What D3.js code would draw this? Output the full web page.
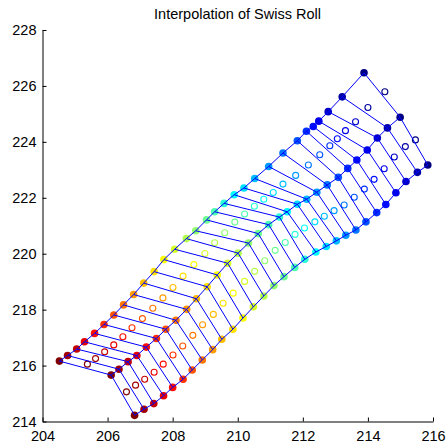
<!DOCTYPE html>
<html>
<head>
<meta charset="utf-8">
<script src="https://cdn.jsdelivr.net/npm/d3@7"></script>
<style>
  body { margin: 0; background: #fff; }
  text { font-family: "Liberation Sans", Arial, sans-serif; }
</style>
</head>
<body>
<div id="chart"></div>
<script>
// boundary (filled dots) and interpolated (open circles) points, bottom row first
const leftEdge = [
  [204.52, 216.16], [204.77, 216.36], [205.05, 216.59], [205.29, 216.85], [205.60, 217.15],
  [205.89, 217.47], [206.19, 217.81], [206.49, 218.17], [206.80, 218.54], [207.11, 218.95],
  [207.43, 219.36], [207.73, 219.79], [208.06, 220.16], [208.42, 220.54], [208.71, 220.82],
  [209.04, 221.21], [209.29, 221.50], [209.58, 221.80], [209.89, 222.11], [210.19, 222.35],
  [210.52, 222.69], [210.95, 223.12], [211.39, 223.60], [211.83, 224.04], [212.11, 224.38],
  [212.32, 224.55], [212.49, 224.74], [212.78, 225.08], [213.21, 225.61], [213.88, 226.47]
];
const midEdge = [
  [206.11, 215.66], [206.35, 215.87], [206.63, 216.14], [206.90, 216.36], [207.19, 216.66],
  [207.50, 216.97], [207.79, 217.30], [208.10, 217.62], [208.43, 218.01], [208.73, 218.39],
  [209.06, 218.82], [209.37, 219.24], [209.69, 219.66], [210.01, 220.02], [210.33, 220.38],
  [210.63, 220.72], [210.95, 221.04], [211.28, 221.31], [211.52, 221.50], [211.83, 221.77],
  [212.12, 221.95], [212.43, 222.20], [212.75, 222.46], [213.09, 222.73], [213.38, 223.05],
  [213.66, 223.35], [213.98, 223.71], [214.29, 224.14], [214.60, 224.50], [214.99, 224.88]
];
const rightEdge = [
  [206.83, 214.22], [207.12, 214.44], [207.42, 214.64], [207.72, 214.92], [208.00, 215.22],
  [208.32, 215.51], [208.60, 215.84], [208.91, 216.20], [209.23, 216.57], [209.51, 216.94],
  [209.85, 217.30], [210.16, 217.70], [210.48, 218.10], [210.80, 218.49], [211.11, 218.86],
  [211.42, 219.18], [211.75, 219.51], [212.06, 219.80], [212.40, 220.06], [212.72, 220.26],
  [213.03, 220.46], [213.32, 220.66], [213.63, 220.85], [213.94, 221.14], [214.27, 221.47],
  [214.55, 221.76], [214.86, 222.18], [215.17, 222.58], [215.52, 222.91], [215.84, 223.17]
];
const interpLeft = [
  [205.38, 216.05], [205.63, 216.25], [205.91, 216.49], [206.19, 216.74], [206.47, 217.03],
  [206.75, 217.35], [207.07, 217.68], [207.39, 218.05], [207.70, 218.42], [208.01, 218.79],
  [208.32, 219.20], [208.65, 219.61], [208.99, 220.01], [209.29, 220.39], [209.60, 220.75],
  [209.91, 221.13], [210.21, 221.42], [210.51, 221.70], [210.80, 221.95], [211.09, 222.19],
  [211.39, 222.49], [211.78, 222.80], [212.17, 223.17], [212.52, 223.54], [212.83, 223.86],
  [213.06, 224.11], [213.31, 224.40], [213.62, 224.72], [214.00, 225.23], [214.52, 225.79]
];
const interpRight = [
  [206.58, 215.06], [206.86, 215.30], [207.14, 215.51], [207.43, 215.76], [207.71, 216.05],
  [208.01, 216.38], [208.31, 216.70], [208.62, 217.08], [208.92, 217.46], [209.25, 217.83],
  [209.55, 218.23], [209.86, 218.59], [210.21, 219.01], [210.52, 219.37], [210.83, 219.75],
  [211.15, 220.12], [211.46, 220.40], [211.76, 220.69], [212.05, 220.92], [212.37, 221.14],
  [212.66, 221.34], [212.96, 221.54], [213.27, 221.74], [213.58, 222.02], [213.89, 222.31],
  [214.19, 222.66], [214.50, 223.04], [214.81, 223.46], [215.15, 223.83], [215.46, 224.07]
];
const xTicks = [204, 206, 208, 210, 212, 214, 216];
const yTicks = [214, 216, 218, 220, 222, 224, 226, 228];
const title = "Interpolation of Swiss Roll";

const W = 446, H = 444;
const margin = { top: 30, right: 13, bottom: 22.5, left: 42.5 };

const svg = d3.select("#chart").append("svg")
  .attr("width", W)
  .attr("height", H);

const x = d3.scaleLinear().domain([204, 216]).range([margin.left, W - margin.right]);
const y = d3.scaleLinear().domain([214, 228]).range([H - margin.bottom, margin.top]);

// jet colormap, reversed so the first row is dark red
const jet = d3.scaleLinear()
  .domain([0, 0.125, 0.375, 0.625, 0.875, 1])
  .range(["#000080", "#0000ff", "#00ffff", "#ffff00", "#ff0000", "#800000"]);
const n = leftEdge.length;
const color = i => jet(1 - i / (n - 1));

// filled boundary dots
[leftEdge, midEdge, rightEdge].forEach(pts => {
  svg.append("g").selectAll("circle")
    .data(pts)
    .join("circle")
    .attr("cx", d => x(d[0]))
    .attr("cy", d => y(d[1]))
    .attr("r", 3.8)
    .attr("fill", (d, i) => color(i));
});

// open interpolated circles
[interpLeft, interpRight].forEach(pts => {
  svg.append("g").selectAll("circle")
    .data(pts)
    .join("circle")
    .attr("cx", d => x(d[0]))
    .attr("cy", d => y(d[1]))
    .attr("r", 3.0)
    .attr("fill", "none")
    .attr("stroke-width", 1.1)
    .attr("stroke", (d, i) => color(i));
});

// grid lines
const line = d3.line().x(d => x(d[0])).y(d => y(d[1]));
const grid = svg.append("g")
  .attr("fill", "none")
  .attr("stroke", "#0000ff")
  .attr("stroke-width", 1);

[leftEdge, midEdge, rightEdge].forEach(pts => {
  grid.append("path").attr("d", line(pts));
});
leftEdge.forEach((p, i) => {
  grid.append("path").attr("d", line([p, midEdge[i], rightEdge[i]]));
});

// axes
const xAxis = svg.append("g")
  .attr("transform", `translate(0,${H - margin.bottom})`)
  .call(d3.axisBottom(x).tickValues(xTicks).tickSize(-4).tickSizeOuter(0).tickPadding(9));
const yAxis = svg.append("g")
  .attr("transform", `translate(${margin.left},0)`)
  .call(d3.axisLeft(y).tickValues(yTicks).tickSize(-4).tickSizeOuter(0).tickPadding(6));

[xAxis, yAxis].forEach(a => {
  a.selectAll("text")
    .style("font-size", "14.5px")
    .attr("fill", "#000");
  a.selectAll("line, path").attr("stroke", "#000");
});

svg.append("text")
  .attr("x", 237.5)
  .attr("y", 19)
  .attr("text-anchor", "middle")
  .style("font-size", "14.5px")
  .text(title);
</script>
</body>
</html>
